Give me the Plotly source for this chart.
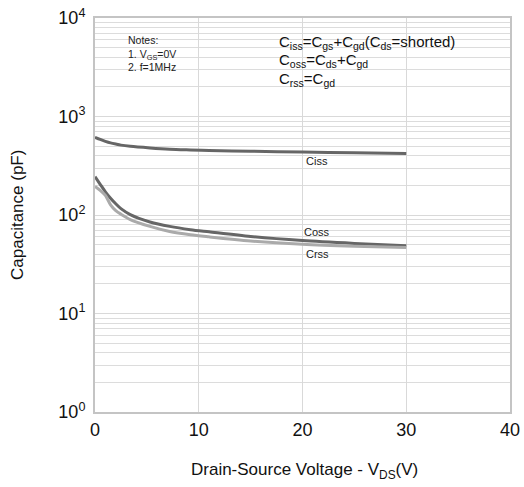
import math
import plotly.graph_objects as go

vds = [0, 0.5, 1, 1.5, 2, 2.5, 3.4, 5.3, 7.2, 9.2, 11, 15, 20, 25, 30]
ciss = [615, 585, 560, 540, 525, 512, 498, 480, 466, 458, 452, 444, 436, 428, 420]
coss = [245, 205, 172, 148, 130, 116, 101, 85, 76.6, 71, 67.5, 60.5, 55, 51.5, 48.7]
crss = [195, 178, 158, 127, 111, 102, 90, 76.6, 68, 63, 60, 54.5, 50.5, 48.3, 46.9]

ytick_vals = [1, 10, 100, 1000, 10000]
ytick_text = ["10<sup>0</sup>", "10<sup>1</sup>", "10<sup>2</sup>", "10<sup>3</sup>", "10<sup>4</sup>"]
xtick_vals = [0, 10, 20, 30, 40]
minor_vals = [m * d for d in [1, 10, 100, 1000] for m in range(2, 10)]

formula_lines = [
    "C<sub>iss</sub>=C<sub>gs</sub>+C<sub>gd</sub>(C<sub>ds</sub>=shorted)",
    "C<sub>oss</sub>=C<sub>ds</sub>+C<sub>gd</sub>",
    "C<sub>rss</sub>=C<sub>gd</sub>",
]
curve_labels = [("Ciss", 353), ("Coss", 67), ("Crss", 40)]

FONT = "Liberation Sans, Arial, sans-serif"

fig = go.Figure()
fig.add_trace(go.Scatter(x=vds, y=ciss, mode="lines", line=dict(color="#666666", width=3, shape="spline", smoothing=0.8), name="Ciss"))
fig.add_trace(go.Scatter(x=vds, y=coss, mode="lines", line=dict(color="#666666", width=3, shape="spline", smoothing=0.8), name="Coss"))
fig.add_trace(go.Scatter(x=vds, y=crss, mode="lines", line=dict(color="#aaaaaa", width=3, shape="spline", smoothing=0.8), name="Crss"))

# white box behind notes (covers gridlines)
fig.add_shape(type="rect", xref="paper", yref="paper", x0=0.05, x1=0.988, y0=0.793, y1=0.983,
              fillcolor="white", line=dict(width=0), layer="between")

fig.add_annotation(xref="paper", yref="paper", x=0.074, y=0.965, xanchor="left", yanchor="top",
                   align="left", showarrow=False,
                   text="Notes:<br>1. V<sub>GS</sub>=0V<br>2. f=1MHz",
                   font=dict(family=FONT, size=10.5, color="#222222"))
for i, (txt, yp) in enumerate(zip(formula_lines, [0.938, 0.892, 0.844])):
    fig.add_annotation(xref="paper", yref="paper", x=0.4386, y=yp, xanchor="left", yanchor="middle",
                       align="left", showarrow=False, text=txt,
                       font=dict(family=FONT, size=15, color="#111111"))

for lbl, yv in curve_labels:
    fig.add_annotation(x=21.4, y=math.log10(yv), text=lbl, showarrow=False,
                       font=dict(family=FONT, size=11, color="#222222"))

# axis titles
fig.add_annotation(xref="paper", yref="paper", x=0.506, y=-0.15, xanchor="center", yanchor="middle",
                   text="Drain-Source Voltage - V<sub>DS</sub>(V)",
                   showarrow=False, font=dict(family=FONT, size=17, color="#111111"))
fig.add_annotation(xref="paper", yref="paper", x=-0.188, y=0.5, xanchor="center", yanchor="middle",
                   text="Capacitance (pF)", textangle=-90,
                   showarrow=False, font=dict(family=FONT, size=17, color="#111111"))

fig.update_layout(
    width=524, height=487,
    margin=dict(l=95, r=14, t=18, b=75),
    paper_bgcolor="white", plot_bgcolor="white",
    showlegend=False,
    font=dict(family=FONT, color="#111111"),
)
fig.update_xaxes(range=[0, 40], tickvals=xtick_vals, showgrid=True, gridcolor="#d9d9d9", gridwidth=1,
                 showline=True, linecolor="#c4c4c4", linewidth=2, mirror=True, zeroline=False,
                 ticks="", tickfont=dict(size=18, family=FONT), automargin=False)
fig.update_yaxes(type="log", range=[0, 4], tickvals=ytick_vals, ticktext=ytick_text,
                 showgrid=True, gridcolor="#d9d9d9", gridwidth=1,
                 minor=dict(tickvals=minor_vals, showgrid=True, gridcolor="#dcdcdc", gridwidth=1, ticks=""),
                 showline=True, linecolor="#c4c4c4", linewidth=2, mirror=True, zeroline=False,
                 ticks="", tickfont=dict(size=18, family=FONT), automargin=False, ticklabelstandoff=4)

fig.write_html("out.html", post_script="document.body.style.margin='0';",
               config={"displayModeBar": False})
